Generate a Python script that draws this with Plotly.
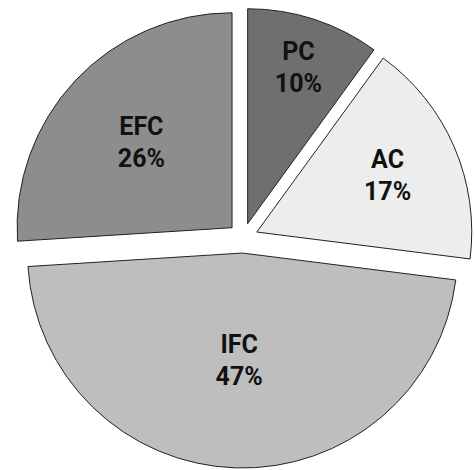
import plotly.graph_objects as go

labels = ["PC", "AC", "IFC", "EFC"]
values = [10, 17, 47, 26]
colors = ["#6f6f6f", "#ededed", "#bebebe", "#8d8d8d"]
pulls = [0.07, 0.07, 0.07, 0.07]

texts = [f"<b>{l}<br>{v}%</b>" for l, v in zip(labels, values)]

fig = go.Figure(go.Pie(
    labels=labels,
    values=values,
    text=texts,
    textinfo="text",
    textposition="inside",
    insidetextorientation="horizontal",
    sort=False,
    direction="clockwise",
    rotation=0,
    pull=pulls,
    marker=dict(colors=colors, line=dict(color="#222222", width=1)),
    textfont=dict(family="Roboto", size=25, color="#111111"),
    domain=dict(x=[13/474, 473/474], y=[1 - 468/470, 1 - 8/470]),
    hoverinfo="skip",
))

fig.update_layout(
    width=474, height=470,
    margin=dict(l=0, r=0, t=0, b=0),
    paper_bgcolor="white",
    plot_bgcolor="white",
    showlegend=False,
    uniformtext=dict(minsize=25, mode="show"),
)

fig.write_html("out.html")
